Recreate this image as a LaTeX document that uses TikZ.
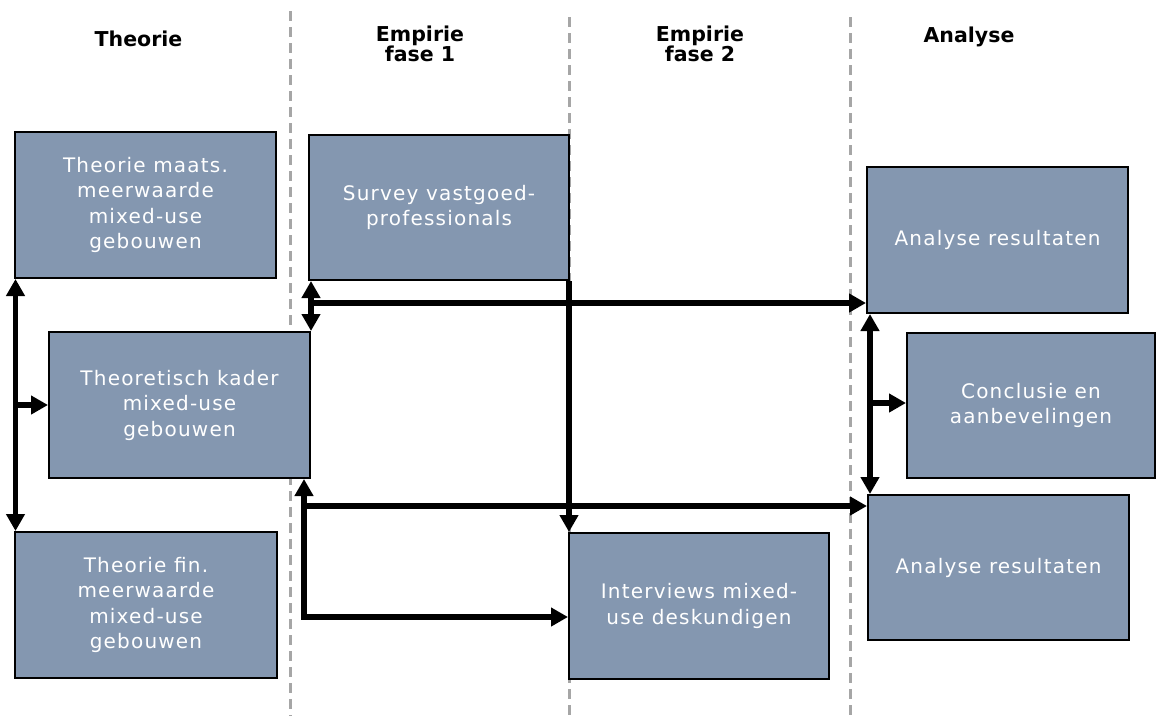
\documentclass[tikz,border=0pt]{standalone}
\usepackage{fontspec}
\setmainfont{DejaVu Sans}
\newfontfamily\boxfont[LetterSpace=6]{DejaVu Sans}
\usetikzlibrary{arrows.meta,calc}
\definecolor{boxfill}{HTML}{8497B0}
\definecolor{dashgray}{HTML}{A6A6A6}
\tikzset{
  stepbox/.style={draw=black, line width=2pt, fill=boxfill, text=white, inner sep=0pt,
    align=center, font=\boxfont\fontsize{20}{25.5}\selectfont},
  hdr/.style={font=\bfseries\fontsize{20.5}{20}\selectfont, align=center, inner sep=0pt},
  tip/.tip={Triangle[length=17pt,width=18pt]},
  arr/.style={line width=5.5pt, miter limit=10, -tip},
  dbl/.style={line width=5.5pt, miter limit=10, tip-tip},
  sep/.style={draw=dashgray, line width=3pt, dash pattern=on 10pt off 6pt}
}
\begin{document}
\begin{tikzpicture}[x=1pt,y=-1pt]
\useasboundingbox (0,0) rectangle (1157,716);
% separators
\draw[sep] (290,11) -- (290,716);
\draw[sep] (569,17) -- (569,716);
\draw[sep] (850,17) -- (850,716);
% headers
\node[hdr, anchor=base] (h1) at (138.5,46) {Theorie};
\node[hdr] (h2) at (420,44) {Empirie\\fase 1};
\node[hdr] (h3) at (700,44) {Empirie\\fase 2};
\node[hdr, anchor=base] (h4) at (969,42) {Analyse};
% boxes
\node[stepbox, minimum width=261pt, minimum height=146pt] (maats) at (145.5,205) {Theorie maats.\\meerwaarde\\mixed-use\\gebouwen};
\node[stepbox, minimum width=261pt, minimum height=146pt] (kader) at (179.5,405) {Theoretisch kader\\mixed-use\\gebouwen};
\node[stepbox, minimum width=262pt, minimum height=146pt] (fin) at (146,605) {Theorie fin.\\meerwaarde\\mixed-use\\gebouwen};
\node[stepbox, minimum width=260pt, minimum height=145pt] (survey) at (439,207.5) {Survey vastgoed-\\professionals};
\node[stepbox, minimum width=260pt, minimum height=146pt] (interviews) at (699,606) {Interviews mixed-\\use deskundigen};
\node[stepbox, minimum width=261pt, minimum height=146pt] (ana1) at (997.5,240) {Analyse resultaten};
\node[stepbox, minimum width=248pt, minimum height=145pt] (concl) at (1031,405.5) {Conclusie en\\aanbevelingen};
\node[stepbox, minimum width=261pt, minimum height=145pt] (ana2) at (998.5,567.5) {Analyse resultaten};
% left connectors
\coordinate (lt) at ($(maats.south west)+(1.5,0)$);
\draw[dbl] (lt) -- (lt |- fin.north);
\coordinate (jl) at (lt |- kader.west);
\draw[arr] (jl) -- (kader.west);
% middle connectors
\coordinate (sv) at (kader.north east |- survey.south);
\draw[dbl] (sv) -- (kader.north east);
\coordinate (j1) at (310,303);
\draw[arr] (j1) -- (j1 -| ana1.west);
\coordinate (sd) at ($(survey.south east)+(-1,0)$);
\draw[arr] (sd) -- (sd |- interviews.north);
\coordinate (k1) at (304,506);
\coordinate (k2) at (304,617);
\draw[dbl] (k2 |- kader.south) -- (k2) -- (k2 -| interviews.west);
\draw[arr] (k1) -- (k1 -| ana2.west);
% right connectors
\coordinate (rt) at ($(ana1.south west)+(4,0)$);
\draw[dbl] (rt) -- (rt |- ana2.north);
\coordinate (jr) at (871,403);
\draw[arr] (jr) -- (jr -| concl.west);
\end{tikzpicture}
\end{document}
